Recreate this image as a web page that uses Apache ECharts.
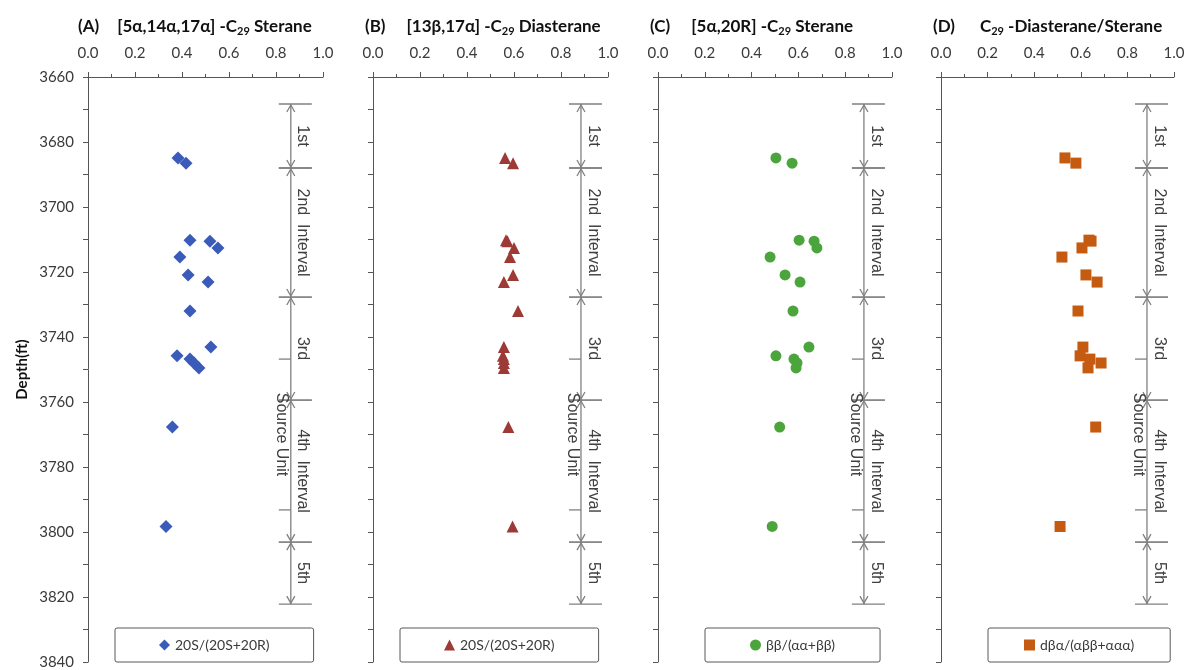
<!DOCTYPE html>
<html>
<head>
<meta charset="utf-8">
<title>C29 sterane biomarker ratios vs depth</title>
<script src="https://cdn.jsdelivr.net/npm/echarts@6/dist/echarts.min.js"></script>
<style>
  html, body { margin: 0; padding: 0; background: #fff; }
  #chart { width: 1190px; height: 670px; }
</style>
</head>
<body>
<div id="chart"></div>
<script>
// sample depths (ft), shared by all four panels
const depths = [3684.9, 3686.5, 3710.2, 3710.5, 3712.6, 3715.4, 3720.9, 3723.1, 3732.0, 3743.1, 3745.8, 3746.8, 3748.0, 3749.5, 3767.7, 3798.3];
// (A) 20S/(20S+20R), [5a,14a,17a]-C29 sterane
const steraneSR = [0.383, 0.417, 0.434, 0.519, 0.553, 0.391, 0.426, 0.511, 0.434, 0.523, 0.379, 0.434, 0.451, 0.472, 0.359, 0.332];
// (B) 20S/(20S+20R), [13b,17a]-C29 diasterane
const diasteraneSR = [0.562, 0.596, 0.566, 0.572, 0.600, 0.583, 0.596, 0.557, 0.617, 0.557, 0.553, 0.557, 0.557, 0.557, 0.576, 0.594];
// (C) bb/(aa+bb), [5a,20R]-C29 sterane
const steraneBB = [0.504, 0.573, 0.603, 0.667, 0.679, 0.479, 0.543, 0.607, 0.577, 0.645, 0.504, 0.581, 0.594, 0.590, 0.520, 0.488];
// (D) dba/(abb+aaa), C29 diasterane/sterane
const diaSterane = [0.532, 0.579, 0.635, 0.644, 0.605, 0.519, 0.622, 0.670, 0.588, 0.609, 0.597, 0.639, 0.687, 0.631, 0.664, 0.511];

// interval boundaries (ft) and names
const intervalBounds = [3668.3, 3688.0, 3727.7, 3759.4, 3803.1, 3822.2];
const intervalNames = ['1st', '2nd  Interval', '3rd', '4th  Interval', '5th'];
const sourceUnit = [3746.8, 3793.2];
// x value of the interval bracket in each panel
const bracketX = [0.863, 0.885, 0.88, 0.884];

const panels = [
  { tag: '(A)', pre: '[5α,14α,17α] -C', sub: '29', post: ' Sterane', values: steraneSR, name: '20S/(20S+20R)',
    symbol: 'diamond', size: 13, color: '#3a5bb9', left: 88, width: 235, titleLeft: 73, tagGap: 18, legendLeft: 115, legendPad: 44 },
  { tag: '(B)', pre: '[13β,17α] -C', sub: '29', post: ' Diasterane', values: diasteraneSR, name: '20S/(20S+20R) ',
    symbol: 'triangle', size: 12, color: '#9e3a36', left: 373, width: 235, titleLeft: 360, tagGap: 21, legendLeft: 400, legendPad: 44 },
  { tag: '(C)', pre: '[5α,20R] -C', sub: '29', post: ' Sterane', values: steraneBB, name: 'ββ/(αα+ββ)',
    symbol: 'circle', size: 11, color: '#4ca43d', left: 658, width: 234, titleLeft: 645, tagGap: 21, legendLeft: 705, legendPad: 45 },
  { tag: '(D)', pre: 'C', sub: '29', post: ' -Diasterane/Sterane', values: diaSterane, name: 'dβα/(αββ+ααα)',
    symbol: 'rect', size: 11, color: '#c55a11', left: 941, width: 233, titleLeft: 928, tagGap: 25, legendLeft: 988, legendPad: 36 }
];

const AXIS = '#555555';
const TEXT = '#3a3a3a';
const BRACKET = '#808080';
const FONT = 'Lato, "Open Sans", sans-serif';

function bracketRender(params, api) {
  const x0 = api.value(0);
  const a = api.coord([x0, api.value(1)]);
  const b = api.coord([x0, api.value(2)]);
  const x = a[0];
  const ls = { stroke: BRACKET, lineWidth: 1.3, fill: null };
  return {
    type: 'group',
    children: [
      { type: 'line', shape: { x1: x, y1: a[1], x2: x, y2: b[1] }, style: ls },
      { type: 'line', shape: { x1: x - 12, y1: a[1], x2: x + 21, y2: a[1] }, style: ls },
      { type: 'line', shape: { x1: x - 12, y1: b[1], x2: x + 21, y2: b[1] }, style: ls },
      { type: 'polyline', shape: { points: [[x - 4, a[1] + 8], [x, a[1] + 1], [x + 4, a[1] + 8]] }, style: ls },
      { type: 'polyline', shape: { points: [[x - 4, b[1] - 8], [x, b[1] - 1], [x + 4, b[1] - 8]] }, style: ls },
      { type: 'text', x: x + 12, y: (a[1] + b[1]) / 2, rotation: -Math.PI / 2,
        style: { text: intervalNames[params.dataIndex], font: '16px "Liberation Sans", Arial', fill: '#404040', align: 'center', verticalAlign: 'middle' } }
    ]
  };
}

function sourceRender(params, api) {
  const x0 = api.value(0);
  const a = api.coord([x0, api.value(1)]);
  const b = api.coord([x0, api.value(2)]);
  const x = a[0];
  const ls = { stroke: BRACKET, lineWidth: 1.3 };
  return {
    type: 'group',
    children: [
      { type: 'line', shape: { x1: x - 12, y1: a[1], x2: x, y2: a[1] }, style: ls },
      { type: 'line', shape: { x1: x - 12, y1: b[1], x2: x, y2: b[1] }, style: ls },
      { type: 'text', x: x - 9, y: (a[1] + b[1]) / 2, rotation: -Math.PI / 2,
        style: { text: 'Source Unit', font: '16px "Liberation Sans", Arial', fill: '#404040', align: 'center', verticalAlign: 'middle' } }
    ]
  };
}

const chart = echarts.init(document.getElementById('chart'));

const option = {
  animation: false,
  backgroundColor: '#fff',
  title: panels.map(p => ({
    left: p.titleLeft,
    top: 12,
    text: '{tag|' + p.tag + '}{t|' + p.pre + '}{s|' + p.sub + '}{t|' + p.post + '}',
    textStyle: {
      rich: {
        tag: { fontFamily: FONT, fontSize: 17, fontWeight: 'bold', color: '#111', padding: [0, p.tagGap, 0, 0] },
        t: { fontFamily: FONT, fontSize: 17, fontWeight: 'bold', color: '#111' },
        s: { fontFamily: FONT, fontSize: 11, fontWeight: 'bold', color: '#111', padding: [9, 0, 0, 0] }
      }
    }
  })),
  legend: panels.map(p => ({
    left: p.legendLeft,
    top: 628,
    padding: [10, p.legendPad],
    borderColor: '#595959',
    borderWidth: 1,
    borderRadius: 2,
    itemWidth: 11,
    itemHeight: 11,
    selectedMode: false,
    formatter: n => n.trim(),
    textStyle: { fontFamily: FONT, fontSize: 14, color: TEXT },
    data: [{ name: p.name, icon: p.symbol }]
  })),
  grid: panels.map(p => ({ left: p.left, width: p.width, top: 77, height: 585 })),
  xAxis: panels.map((p, i) => ({
    gridIndex: i,
    type: 'value',
    position: 'top',
    min: 0,
    max: 1,
    interval: 0.2,
    axisLine: { show: true, lineStyle: { color: AXIS, width: 1 } },
    axisTick: { show: true, length: 5, lineStyle: { color: AXIS } },
    minorTick: { show: true, splitNumber: 2, length: 3, lineStyle: { color: AXIS } },
    splitLine: { show: false },
    axisLabel: { margin: 16, fontFamily: FONT, fontSize: 15, color: TEXT, formatter: v => v.toFixed(1) }
  })),
  yAxis: panels.map((p, i) => ({
    gridIndex: i,
    type: 'value',
    inverse: true,
    min: 3660,
    max: 3840,
    interval: 10,
    name: i === 0 ? 'Depth(ft)' : '',
    nameLocation: 'middle',
    nameGap: 58,
    nameTextStyle: { fontFamily: FONT, fontSize: 15, fontWeight: 'bold', color: '#111' },
    axisLine: { show: true, lineStyle: { color: AXIS, width: 1 } },
    axisTick: { show: true, length: 5, lineStyle: { color: AXIS } },
    splitLine: { show: false },
    axisLabel: {
      show: i === 0,
      margin: 14,
      fontFamily: FONT,
      fontSize: 15,
      color: TEXT,
      formatter: v => (v % 20 === 0 ? String(v) : '')
    }
  })),
  series: [].concat(
    panels.map((p, i) => ({
      name: p.name,
      type: 'scatter',
      xAxisIndex: i,
      yAxisIndex: i,
      symbol: p.symbol,
      symbolSize: p.size,
      itemStyle: { color: p.color, opacity: 1 },
      data: depths.map((d, k) => [p.values[k], d]),
      z: 5
    })),
    panels.map((p, i) => ({
      type: 'custom',
      xAxisIndex: i,
      yAxisIndex: i,
      silent: true,
      renderItem: bracketRender,
      encode: { x: 0, y: [1, 2] },
      data: intervalNames.map((n, k) => [bracketX[i], intervalBounds[k], intervalBounds[k + 1]]),
      z: 3
    })),
    panels.map((p, i) => ({
      type: 'custom',
      xAxisIndex: i,
      yAxisIndex: i,
      silent: true,
      renderItem: sourceRender,
      encode: { x: 0, y: [1, 2] },
      data: [[bracketX[i], sourceUnit[0], sourceUnit[1]]],
      z: 3
    }))
  )
};

chart.setOption(option);
</script>
</body>
</html>
